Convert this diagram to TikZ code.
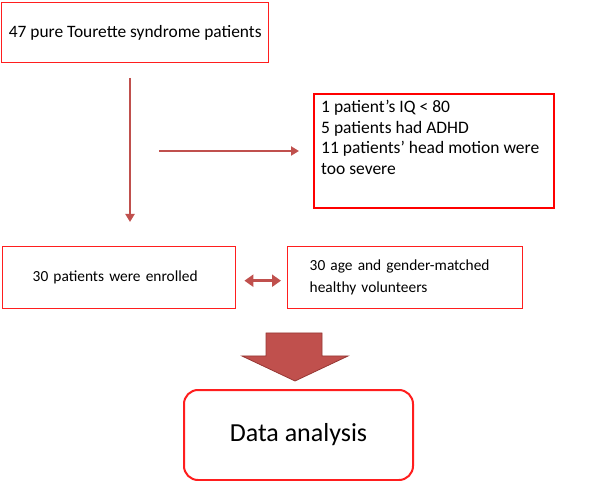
\documentclass[tikz,border=0pt]{standalone}
\usepackage{fontspec}
\setmainfont{Carlito}
\usetikzlibrary{arrows.meta,positioning}
\definecolor{boxred}{RGB}{255,30,30}
\definecolor{arrowred}{RGB}{192,80,77}
\definecolor{arrowdark}{RGB}{150,55,52}

\begin{document}
\begin{tikzpicture}
  [x=1pt,y=-1pt,
   box/.style={draw=boxred,line width=1.4pt,inner ysep=0pt,align=left,anchor=north west},
   thin arrow/.style={draw=arrowred,line width=2.4pt,-{Triangle[length=8pt,width=9pt]}},
   both arrow/.style={draw=arrowred,line width=3.5pt,
     {Triangle[length=9pt,width=12pt]}-{Triangle[length=9pt,width=12pt]}},
   font=\fontsize{15.4}{22}\selectfont]

  \useasboundingbox (0,0) rectangle (595,481);

  % boxes
  \node[box,minimum width=267pt,minimum height=60pt,inner xsep=4pt,
        font=\fontsize{17.4}{21}\selectfont] (total) at (1,2)
        {47 pure Tourette syndrome patients};
  \node[box,draw=red,line width=1.6pt,minimum width=240pt,minimum height=114pt]
        (excluded) at (313,93) {};
  \node[anchor=north west,align=left,inner sep=0pt,font=\fontsize{17.5}{20.7}\selectfont]
        (reasons) at ([xshift=8pt,yshift=-7pt]excluded.north west)
        {1 patient’s IQ < 80\\
         5 patients had ADHD\\
         11 patients’ head motion were\\
         too severe};
  \node[box,minimum width=233pt,minimum height=62pt,inner xsep=30pt,text width=173pt]
        (enrolled) at (2,246) {30 patients were enrolled};
  \node[box,minimum width=235pt,minimum height=62pt,inner xsep=22pt,text width=191pt]
        (controls) at (287,246) {30 age and gender-matched\\healthy volunteers};
  \node[draw=boxred,line width=2pt,rounded corners=14pt,minimum width=229pt,
        minimum height=90pt,font=\fontsize{26}{30}\selectfont]
        (analysis) at (298.5,435) {Data analysis};

  % arrows
  \coordinate (down start) at (130,78);
  \coordinate (down end) at (130,222);
  \coordinate (side start) at (159,151);
  \coordinate (side end) at (299,151);
  \draw[thin arrow] (down start) -- (down end);
  \draw[thin arrow] (side start) -- (side end);
  \draw[both arrow,shorten <=8pt,shorten >=6pt]
    ([yshift=-3pt]enrolled.east) -- ([yshift=-3pt]controls.west);
  \filldraw[fill=arrowred,draw=arrowdark,line width=0.8pt]
    (266,333) -- (322,333) -- (322,356) -- (348,356) -- (295,381)
    -- (242,356) -- (266,356) -- cycle;
\end{tikzpicture}
\end{document}
